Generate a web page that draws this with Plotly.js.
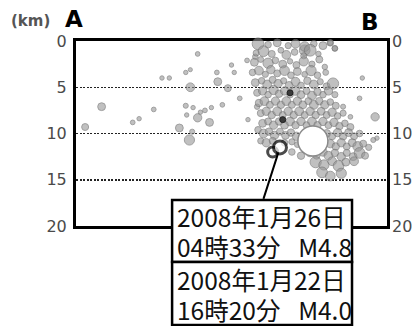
<!DOCTYPE html>
<html>
<head>
<meta charset="utf-8">
<script src="https://cdn.plot.ly/plotly-3.0.1.min.js"></script>
<style>
  html, body { margin: 0; padding: 0; background: #fff; }
  #chart { width: 418px; height: 326px; }
</style>
</head>
<body>
<div id="chart"></div>
<script>
// Hypocentres projected on the A–B section: distance along the section (km),
// depth (km) and magnitude.
const sparseDist  = [13.3, 9.4, 10.2, 12.0, 12.5, 15.4, 17.0, 17.3, 12.5, 15.5, 16.6, 17.9, 2.8, 8.5, 12.0,
                     12.8, 13.6, 14.1, 14.8, 16.0, 12.1, 13.3, 14.6, 6.2, 6.9, 1.0, 11.3, 12.4, 12.7, 18.8,
                     19.8, 18.7, 19.6, 31.0, 29.2, 32.7, 30.0, 32.9, 32.5, 28.3, 27.8, 25.0, 31.3];
const sparseDepth = [1.4, 4.0, 4.0, 3.4, 3.1, 3.4, 2.6, 3.4, 5.0, 4.4, 5.1, 6.2, 7.1, 7.4, 7.0,
                     7.2, 7.7, 7.5, 7.2, 6.9, 8.0, 8.3, 8.8, 8.8, 8.4, 9.3, 9.4, 10.7, 9.8, 8.5,
                     7.1, 2.1, 1.7, 6.2, 7.1, 8.2, 8.2, 10.5, 10.7, 0.8, 0.2, 1.0, 4.0];
const sparseMag   = [1.0, 0.9, 0.9, 0.9, 0.8, 1.0, 0.9, 0.9, 2.0, 1.8, 1.6, 1.0, 1.8, 1.0, 1.1,
                     0.9, 0.9, 1.0, 0.9, 1.0, 0.9, 1.9, 1.8, 1.0, 0.9, 1.6, 1.8, 2.3, 1.1, 0.9,
                     1.2, 1.0, 1.2, 1.0, 1.1, 1.9, 1.0, 0.9, 1.1, 1.2, 1.5, 2.4, 0.9];

const clusterDist = [
  19.9, 21.0, 22.0, 23.2, 24.0, 25.0, 26.0, 27.0, 27.8,
  19.7, 20.5, 21.4, 22.4, 23.0, 23.9, 24.9, 25.6, 26.5, 28.3,
  19.5, 20.2, 21.0, 21.8, 22.6, 23.4, 24.1, 24.9, 25.8, 26.6, 27.2,
  19.3, 20.0, 20.7, 21.3, 22.0, 22.8, 23.5, 24.2, 25.0, 25.7, 26.4, 27.3,
  19.6, 20.3, 20.9, 21.5, 22.1, 22.7, 23.3, 24.0, 24.6, 25.3, 26.0, 26.7, 27.4, 28.1,
  19.8, 20.4, 21.0, 21.6, 22.2, 22.8, 23.4, 24.0, 24.6, 25.2, 25.8, 26.4, 27.0, 27.6, 28.3,
  20.0, 20.6, 21.2, 21.8, 22.4, 23.0, 23.6, 24.2, 24.8, 25.4, 26.0, 26.6, 27.2, 27.8, 28.4,
  20.2, 20.8, 21.4, 22.0, 22.6, 23.2, 23.8, 24.4, 25.0, 25.6, 26.2, 26.8, 27.4, 28.0, 28.6, 29.2,
  20.4, 21.0, 21.6, 22.2, 22.8, 23.4, 24.0, 24.6, 25.2, 25.8, 26.4, 27.0, 27.6, 28.2, 28.8, 29.4, 30.0,
  19.9, 20.5, 21.1, 21.7, 22.3, 22.9, 23.5, 24.1, 27.4, 28.0, 28.6, 29.2, 29.8, 30.4, 31.0, 20.2,
  20.8, 21.5, 22.8, 23.6, 24.2, 27.8, 28.4, 29.0, 29.6, 30.2, 30.8, 31.4, 32.0,
  23.6, 24.6, 25.0, 25.6, 26.3, 27.0, 27.6, 28.3, 29.0, 29.6, 30.3, 31.0, 31.6,
  26.2, 27.1, 28.0, 28.7, 29.5, 30.4, 26.9, 27.8, 29.0
];
const clusterDepth = [
  0.3, 0.4, 0.2, 0.5, 0.3, 0.6, 0.3, 0.5, 0.2,
  1.3, 1.1, 1.4, 1.0, 1.5, 1.2, 1.6, 1.0, 1.4, 0.8,
  2.3, 2.0, 2.4, 2.1, 2.5, 2.2, 2.6, 2.2, 2.5, 2.0, 2.8,
  3.4, 3.2, 3.6, 3.1, 3.5, 3.2, 3.7, 3.3, 3.6, 3.2, 3.7, 3.4,
  4.5, 4.3, 4.7, 4.2, 4.6, 4.3, 4.8, 4.4, 4.8, 4.3, 4.7, 4.4, 4.9, 4.6,
  5.6, 5.4, 5.8, 5.3, 5.7, 5.4, 5.8, 5.4, 5.8, 5.4, 5.9, 5.5, 5.8, 5.4, 5.8,
  6.7, 6.5, 6.9, 6.5, 6.9, 6.5, 6.9, 6.5, 6.9, 6.5, 6.9, 6.5, 6.9, 6.6, 7.0,
  7.8, 7.6, 8.0, 7.6, 8.0, 7.6, 8.0, 7.6, 8.0, 7.6, 8.0, 7.6, 8.0, 7.7, 8.1, 7.8,
  8.9, 8.7, 9.1, 8.7, 9.1, 8.7, 9.1, 8.7, 9.1, 8.7, 9.1, 8.7, 9.1, 8.8, 9.2, 8.9, 9.3,
  9.6, 10.0, 9.8, 10.2, 9.8, 10.2, 9.9, 10.3, 10.0, 10.3, 9.9, 10.3, 9.9, 10.3, 10.0, 10.8,
  11.0, 10.8, 11.0, 10.9, 11.2, 11.1, 11.4, 11.0, 11.4, 11.0, 11.4, 11.1, 11.5,
  12.0, 12.4, 11.8, 12.1, 12.4, 12.0, 12.4, 12.1, 12.5, 12.1, 12.5, 12.1, 12.4,
  13.1, 13.4, 13.0, 13.5, 13.1, 13.0, 14.2, 14.6, 14.3
];
const clusterMag = [
  2.6, 1.5, 1.8, 1.4, 2.0, 2.2, 1.5, 1.8, 1.2,
  1.4, 2.4, 1.6, 1.3, 2.0, 1.5, 1.4, 2.6, 1.2, 1.3,
  1.8, 1.3, 2.3, 1.5, 1.8, 1.2, 1.6, 2.1, 1.4, 1.6, 1.2,
  1.5, 2.0, 1.4, 1.9, 1.6, 2.2, 1.5, 1.8, 1.3, 2.3, 1.5, 1.3,
  1.8, 1.5, 2.0, 1.6, 1.9, 1.4, 1.8, 2.0, 1.5, 1.7, 2.0, 1.4, 1.6, 2.5,
  1.6, 1.9, 1.5, 2.1, 1.7, 1.9, 1.5, 2.0, 1.8, 1.6, 2.0, 1.7, 1.5, 1.9, 1.4,
  1.7, 2.0, 1.6, 1.9, 1.7, 2.0, 1.6, 1.9, 1.8, 1.6, 2.0, 1.7, 1.9, 1.5, 1.6,
  1.6, 1.9, 1.7, 2.0, 1.6, 1.9, 1.7, 2.0, 1.6, 1.9, 1.7, 1.8, 1.6, 1.9, 1.5, 1.4,
  1.8, 1.6, 1.9, 1.7, 1.8, 2.0, 1.7, 1.9, 1.6, 2.0, 1.7, 1.9, 1.6, 1.9, 1.7, 1.5, 1.6,
  1.5, 2.0, 1.7, 1.9, 1.6, 1.8, 1.7, 1.9, 1.8, 1.6, 1.9, 1.7, 1.8, 1.6, 1.5, 1.4,
  1.9, 1.6, 1.5, 1.4, 1.3, 1.9, 1.7, 1.9, 1.6, 1.8, 2.2, 1.6, 1.4,
  1.5, 1.7, 1.3, 1.8, 1.6, 1.9, 2.0, 1.7, 1.9, 1.6, 1.8, 2.4, 1.6,
  2.5, 2.3, 2.0, 2.4, 1.8, 2.0, 2.4, 2.2, 2.3
];

// Largest event in the section (open white circle)
const largestDist  = [25.9];
const largestDepth = [10.8];

// Two small dark-marked events in the cluster
const darkDist  = [23.4, 22.6];
const darkDepth = [5.6, 8.5];

// Events labelled in the boxes: 2008-01-22 M4.0 and 2008-01-26 M4.8
const labelledDist  = [21.5, 22.3];
const labelledDepth = [12.0, 11.5];
const labelledDate  = ['2008年1月22日', '2008年1月26日'];
const labelledTime  = ['16時20分\u2002 M4.0', '04時33分\u2002 M4.8'];

const depthTicks = [0, 5, 10, 15, 20];

const magSize = m => 2.5 + 2.2 * Math.pow(m, 1.5);

const grayMarker = mags => ({
  size: mags.map(magSize),
  color: 'rgba(150,150,150,0.85)',
  line: { color: 'rgba(115,115,115,0.95)', width: 1 }
});

const traces = [
  { type: 'scatter', mode: 'markers', x: sparseDist, y: sparseDepth,
    marker: grayMarker(sparseMag), cliponaxis: false, hoverinfo: 'skip' },
  { type: 'scatter', mode: 'markers', x: clusterDist, y: clusterDepth,
    marker: grayMarker(clusterMag), cliponaxis: false, hoverinfo: 'skip' },
  { type: 'scatter', mode: 'markers', x: largestDist, y: largestDepth,
    marker: { size: 30, color: '#ffffff', line: { color: '#8a8a8a', width: 1.5 } },
    cliponaxis: false, hoverinfo: 'skip' },
  { type: 'scatter', mode: 'markers', x: darkDist, y: darkDepth,
    marker: { size: 6, color: '#3a3a3a', line: { color: '#222', width: 1 } },
    cliponaxis: false, hoverinfo: 'skip' },
  { type: 'scatter', mode: 'markers', x: labelledDist, y: labelledDepth, yaxis: 'y2',
    marker: { size: [10, 13], color: '#ffffff', line: { color: '#000', width: 3 } },
    cliponaxis: false, hoverinfo: 'skip' }
];

const tickFont = { family: 'DejaVu Sans', size: 16, color: '#4a4a4a' };
const boxFont = { family: 'Noto Sans CJK JP', size: 24.5, color: '#111' };

// Caption boxes (paper coordinates): the 01-26 box on top, the 01-22 box below it
const boxX = [0.309, 0.8875];
const boxY = { upper: [-0.195, 0.1405], lower: [-0.535, -0.195] };
const lineY = { upper: [0.05, -0.112], lower: [-0.29, -0.452] };

const boxShape = ([y0, y1]) => ({
  type: 'rect', xref: 'paper', yref: 'paper', x0: boxX[0], x1: boxX[1], y0, y1,
  fillcolor: '#ffffff', line: { color: '#000', width: 2.5 }, layer: 'above'
});

const lineText = (text, y) => ({
  xref: 'paper', yref: 'paper', x: boxX[0] + 0.008, y, xanchor: 'left', yanchor: 'middle',
  text, showarrow: false, font: boxFont
});

const layout = {
  width: 418, height: 326,
  margin: { l: 76, r: 31, t: 41, b: 100 },
  paper_bgcolor: '#ffffff', plot_bgcolor: '#ffffff',
  showlegend: false,
  xaxis: {
    range: [0, 34], showline: true, mirror: true, linewidth: 3, linecolor: '#000',
    showgrid: false, zeroline: false, showticklabels: false, ticks: '',
    layer: 'below traces', fixedrange: true
  },
  yaxis: {
    range: [20, 0], tickvals: depthTicks, ticktext: depthTicks.map(String),
    showline: true, mirror: true, linewidth: 3, linecolor: '#000',
    showgrid: true, gridcolor: '#222', gridwidth: 1.5, griddash: '2px,1.5px',
    zeroline: false, ticks: '', tickfont: tickFont, ticklabelstandoff: 3,
    layer: 'below traces', fixedrange: true
  },
  yaxis2: {
    overlaying: 'y', side: 'right', range: [20, 0],
    tickvals: depthTicks, ticktext: depthTicks.map(String),
    showgrid: false, zeroline: false, showline: false, ticks: '',
    tickfont: tickFont, ticklabelstandoff: 4, fixedrange: true
  },
  shapes: [boxShape(boxY.upper), boxShape(boxY.lower)],
  annotations: [
    { xref: 'paper', yref: 'paper', x: -0.145, y: 1.108, xanchor: 'center', yanchor: 'middle',
      text: '(km)', showarrow: false,
      font: { family: 'DejaVu Sans', size: 15, color: '#555', weight: 'bold' } },
    { xref: 'paper', yref: 'paper', x: -0.006, y: 1.117, xanchor: 'center', yanchor: 'middle',
      text: 'A', showarrow: false,
      font: { family: 'DejaVu Sans', size: 23, color: '#000', weight: 'bold' } },
    { xref: 'paper', yref: 'paper', x: 0.945, y: 1.103, xanchor: 'center', yanchor: 'middle',
      text: 'B', showarrow: false,
      font: { family: 'DejaVu Sans', size: 23, color: '#000', weight: 'bold' } },
    // leader from the upper box to the 01-26 hypocentre
    { xref: 'x', yref: 'y', x: labelledDist[1], y: labelledDepth[1],
      ax: -17, ay: 53, text: '', showarrow: true,
      arrowhead: 0, arrowwidth: 2, arrowcolor: '#000', standoff: 6 },
    lineText(labelledDate[1], lineY.upper[0]),
    lineText(labelledTime[1], lineY.upper[1]),
    lineText(labelledDate[0], lineY.lower[0]),
    lineText(labelledTime[0], lineY.lower[1])
  ]
};

Plotly.newPlot('chart', traces, layout, { staticPlot: true, displayModeBar: false });
</script>
</body>
</html>
